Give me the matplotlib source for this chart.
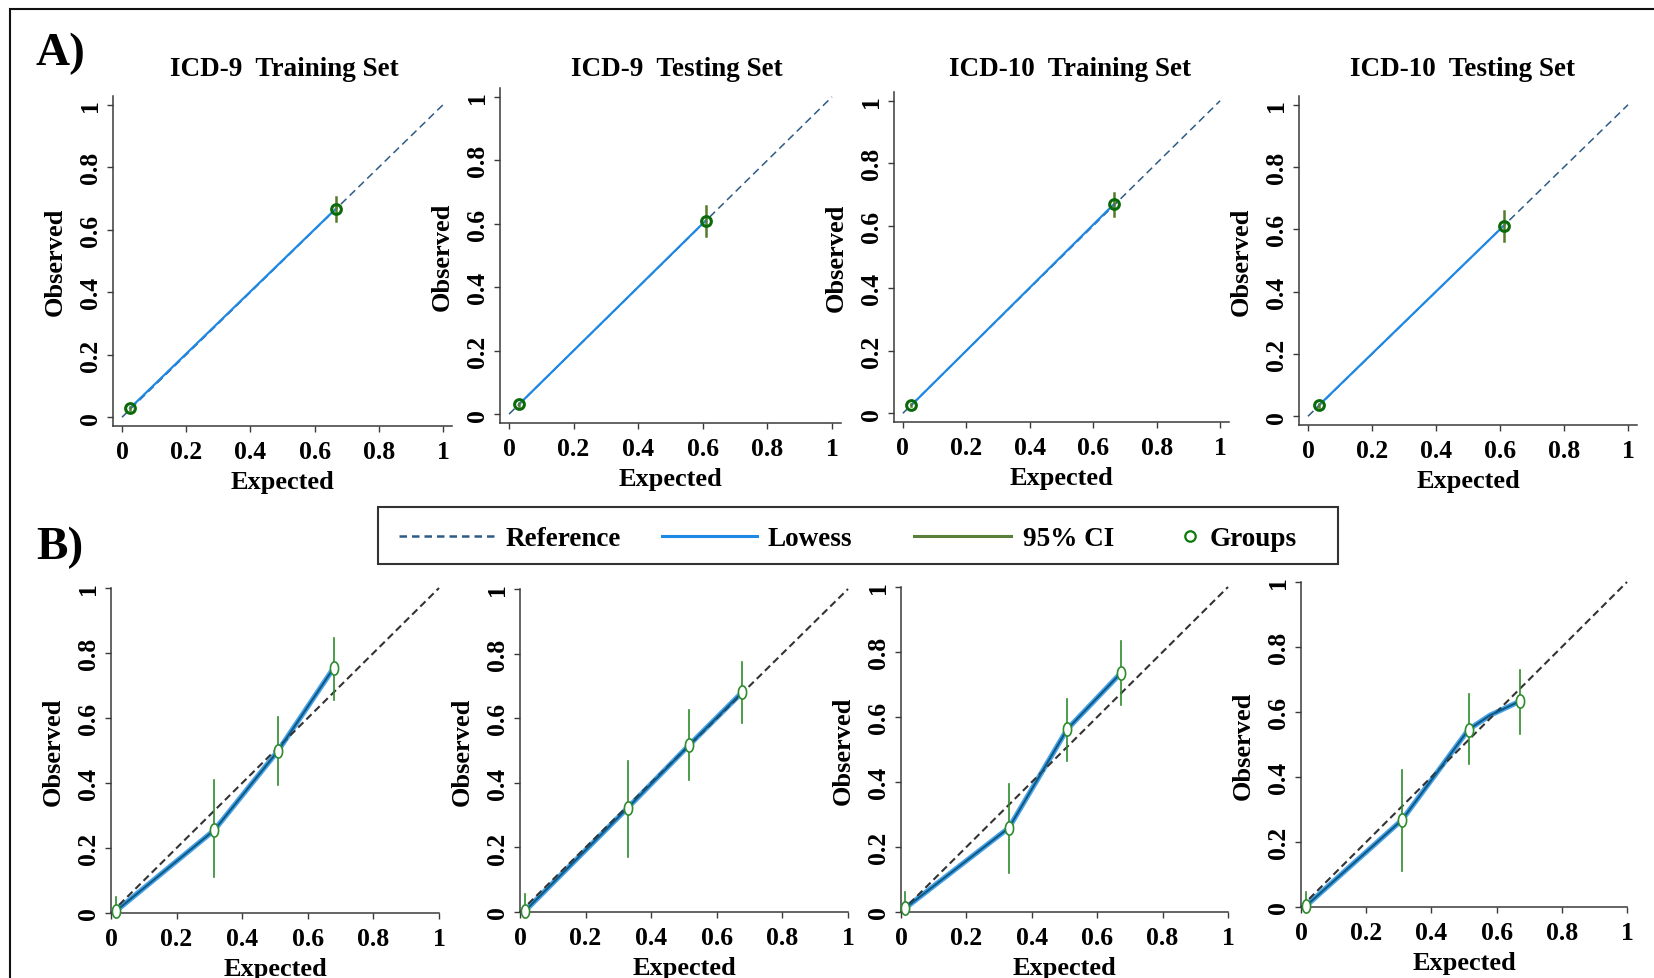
import numpy as np
import matplotlib
matplotlib.use("Agg")
import matplotlib.pyplot as plt
from matplotlib.lines import Line2D
from matplotlib.patches import Rectangle
from matplotlib.path import Path

plt.rcParams['font.family'] = ['Liberation Serif', 'DejaVu Serif']
plt.rcParams['font.weight'] = 'bold'

W, H = 1654, 979

titles = ["ICD-9  Training Set", "ICD-9  Testing Set",
          "ICD-10  Training Set", "ICD-10  Testing Set"]
ticks = [0, 0.2, 0.4, 0.6, 0.8, 1]
tick_labels = ["0", "0.2", "0.4", "0.6", "0.8", "1"]

# A) groups: expected / observed with 95% CI
a_expected = [[0.025, 0.667], [0.031, 0.609], [0.027, 0.666], [0.034, 0.612]]
a_observed = [[0.029, 0.668], [0.031, 0.610], [0.026, 0.670], [0.035, 0.612]]
a_ci_low = [[0.024, 0.629], [0.027, 0.563], [0.022, 0.631], [0.030, 0.564]]
a_ci_high = [[0.034, 0.706], [0.035, 0.657], [0.030, 0.705], [0.040, 0.660]]

# B) groups
b_expected = [[0.015, 0.315, 0.510, 0.679], [0.015, 0.329, 0.515, 0.677],
              [0.013, 0.330, 0.508, 0.672], [0.015, 0.310, 0.514, 0.671]]
b_observed = [[0.006, 0.255, 0.500, 0.754], [0.003, 0.323, 0.516, 0.680],
              [0.012, 0.259, 0.562, 0.735], [0.003, 0.268, 0.546, 0.633]]
b_ci_low = [[0.0, 0.111, 0.394, 0.655], [0.0, 0.171, 0.410, 0.584],
            [0.0, 0.120, 0.466, 0.636], [0.0, 0.111, 0.441, 0.532]]
b_ci_high = [[0.050, 0.409, 0.603, 0.846], [0.056, 0.469, 0.624, 0.773],
             [0.062, 0.395, 0.654, 0.833], [0.046, 0.423, 0.654, 0.728]]
# lowess curves (B)
b_lowess_x = [[0.015, 0.315, 0.510, 0.679], [0.015, 0.329, 0.515, 0.677],
              [0.013, 0.330, 0.508, 0.672], [0.015, 0.310, 0.514, 0.580, 0.671]]
b_lowess_y = [[0.006, 0.255, 0.500, 0.754], [0.003, 0.323, 0.516, 0.680],
              [0.012, 0.259, 0.562, 0.735], [0.003, 0.268, 0.546, 0.590, 0.633]]

# axes boxes in pixels: x0, x1, ytop, ybottom
a_boxes = [(113, 452, 97, 427), (500, 841, 89, 424), (894, 1229, 93, 423), (1299, 1637, 97, 426)]
b_boxes = [(111, 439, 589, 914), (520, 848, 590, 913), (901, 1228, 588, 913), (1301, 1627, 583, 908)]
title_x = [284, 677, 1070, 1463]

fig = plt.figure(figsize=(W / 100, H / 100), dpi=100)

th = np.linspace(0, 2 * np.pi, 60)
ellipse = Path(np.column_stack([0.62 * np.cos(th), np.sin(th)]))


def make_axes(box, lim):
    x0, x1, yt, yb = box
    ax = fig.add_axes([x0 / W, 1 - yb / H, (x1 - x0) / W, (yb - yt) / H])
    ax.set_xlim(lim)
    ax.set_ylim(lim)
    for s in ['top', 'right']:
        ax.spines[s].set_visible(False)
    for s in ['left', 'bottom']:
        ax.spines[s].set_color('#3a3a3a')
        ax.spines[s].set_linewidth(1.1)
    ax.set_xticks(ticks)
    ax.set_xticklabels(tick_labels)
    ax.set_yticks(ticks)
    ax.set_yticklabels(tick_labels, rotation=90, va='center')
    ax.tick_params(direction='out', length=4, width=1, color='#3a3a3a',
                   labelsize=18.5, pad=4)
    ax.tick_params(axis='x', pad=6)
    ax.set_xlabel("Expected", fontsize=19, fontweight='bold')
    ax.set_ylabel("Observed", fontsize=19, fontweight='bold')
    wpx, hpx = x1 - x0, yb - yt
    ax.xaxis.set_label_coords(0.5, -62 / hpx)
    ax.xaxis.label.set_va('baseline')
    ax.yaxis.set_label_coords(-51 / wpx, 0.5)
    ax.yaxis.label.set_va('baseline')
    ax.patch.set_alpha(0)
    return ax


for i in range(4):
    ax = make_axes(a_boxes[i], (-0.028, 1.028))
    ax.plot([0, 1], [0, 1], color='#2d5b86', lw=1.1, ls=(0, (5, 3)))
    ax.plot(a_expected[i], a_observed[i], color='#1e88e5', lw=1.6)
    for x, lo, hi in zip(a_expected[i], a_ci_low[i], a_ci_high[i]):
        ax.plot([x, x], [lo, hi], color='#557a2a', lw=1.8)
    ax.plot(a_expected[i], a_observed[i], ls='none', marker='o', ms=7,
            mfc='none', mec='#0b6b0b', mew=2.2)
    fig.text(title_x[i] / W, 1 - 76 / H, titles[i], ha='center', va='baseline',
             fontsize=19.5, fontweight='bold')

for i in range(4):
    ax = make_axes(b_boxes[i], (0, 1))
    ax.plot([0, 1], [0, 1], color='#333333', lw=1.5, ls=(0, (3.5, 2)), clip_on=False, zorder=3)
    ax.plot(b_lowess_x[i], b_lowess_y[i], color='#4aa3e8', lw=3.8, solid_capstyle='round', zorder=2)
    ax.plot(b_lowess_x[i], b_lowess_y[i], color='#0d5a85', lw=1.5, zorder=4)
    for x, lo, hi in zip(b_expected[i], b_ci_low[i], b_ci_high[i]):
        ax.plot([x, x], [lo, hi], color='#2e8b2e', lw=1.2, zorder=5, clip_on=False)
    ax.plot(b_expected[i], b_observed[i], ls='none', marker=ellipse, ms=9.5,
            mfc='white', mec='#2e8b2e', mew=1.2, zorder=6, clip_on=False)


def fx(x):
    return x / W


def fy(y):
    return 1 - y / H


# panel letters
fig.text(fx(36), fy(65), "A)", fontsize=34, fontweight='bold', ha='left', va='baseline')
fig.text(fx(36), fy(559), "B)", fontsize=34, fontweight='bold', ha='left', va='baseline')

# legend box
fig.add_artist(Rectangle((fx(378), fy(565)), (1338 - 378) / W, (565 - 508) / H,
                         transform=fig.transFigure, fill=False, ec='#333333', lw=1.5))
ly = fy(537)
fig.add_artist(Line2D([fx(399), fx(496)], [ly, ly], color='#2d5b86', lw=1.8, ls=(0, (3, 2))))
fig.add_artist(Line2D([fx(662), fx(757)], [ly, ly], color='#1e88e5', lw=2.2))
fig.add_artist(Line2D([fx(914), fx(1011)], [ly, ly], color='#5a7f3a', lw=2.2))
fig.add_artist(Line2D([fx(1190)], [ly], ls='none', marker='o', ms=7.5, mfc='none',
                      mec='#0a7a0a', mew=1.6))
for x, t in [(506, "Reference"), (767, "Lowess"), (1023, "95% CI"), (1210, "Groups")]:
    fig.text(fx(x), fy(546), t, fontsize=19.5, fontweight='bold', ha='left', va='baseline')

# outer frame
fig.add_artist(Rectangle((fx(10), fy(1000)), (1700 - 10) / W, (1000 - 10) / H,
                         transform=fig.transFigure, fill=False, ec='#111111', lw=1.5))

fig.savefig("out.png", dpi=100)
